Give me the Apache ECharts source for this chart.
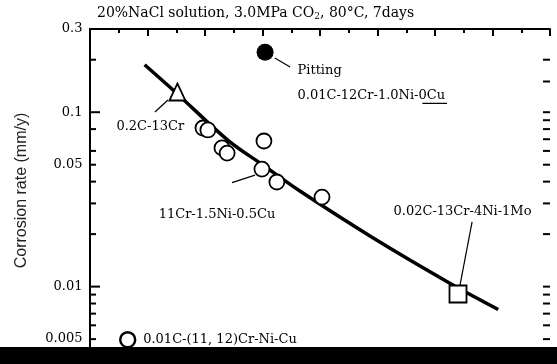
<!DOCTYPE html>
<html>
<head>
<meta charset="utf-8">
<script src="https://cdn.jsdelivr.net/npm/echarts@6/dist/echarts.min.js"></script>
<style>
  html, body { margin: 0; padding: 0; background: #fff; }
  #chart { width: 557px; height: 364px; }
</style>
</head>
<body>
<div id="chart"></div>
<script>
// values; the x axis has no labels, so x is in tick units
const yTickLabels = [0.3, 0.1, 0.05, 0.01, 0.005]
const leftMajorTicks = [0.1, 0.01]
const leftMinorTicks = [0.2, 0.08, 0.06, 0.05, 0.04, 0.03, 0.02, 0.009, 0.008, 0.007, 0.006, 0.005, 0.004]
const rightTicks = [0.2, 0.15, 0.1, 0.09, 0.08, 0.07, 0.06, 0.05, 0.04, 0.03, 0.02,
  0.01, 0.009, 0.008, 0.007, 0.006, 0.005, 0.004]

// fitted trend curve
const trendX = [1.9, 3.0, 4.8, 6.0, 7.3, 9.85, 12.5, 14.2]
const trendY = [0.187, 0.129, 0.069, 0.050, 0.0353, 0.019, 0.0105, 0.0074]

// 0.01C-(11, 12)Cr-Ni-Cu steels
const crNiCuName = '0.01C-(11, 12)Cr-Ni-Cu'
const crNiCuX = [3.93, 4.10, 4.59, 4.77, 6.05, 5.98, 6.50, 8.07]
const crNiCuY = [0.0812, 0.0791, 0.0624, 0.0583, 0.0684, 0.0472, 0.0398, 0.0326]

const pittingPoint = [6.09, 0.221]
const cr13Point = [3.04, 0.1306]
const ni4MoPoint = [12.80, 0.00907]

// annotation texts, their anchors (left edge, middle) and leader lines
const noteTexts = ['Pitting', '0.01C-12Cr-1.0Ni-0Cu', '0.2C-13Cr', '11Cr-1.5Ni-0.5Cu', '0.02C-13Cr-4Ni-1Mo']
const noteX = [7.20, 7.20, 0.90, 2.37, 10.54]
const noteY = [0.1723, 0.1238, 0.0823, 0.0257, 0.0268]
const leaders = [
  [[6.43, 0.2045], [6.96, 0.1816]],
  [[2.71, 0.1175], [2.26, 0.1003]],
  [[5.74, 0.0436], [4.94, 0.0395]],
  [[12.87, 0.0102], [13.29, 0.0235]]
]
// underline under "0Cu"
const underline = [[11.56, 0.1125], [12.42, 0.1125]]

const serif = 'DejaVu Serif'
const chart = echarts.init(document.getElementById('chart'))

const tickSeries = (values, x, len, side) => ({
  type: 'scatter',
  silent: true,
  clip: false,
  symbol: 'rect',
  symbolSize: [len, 2],
  symbolOffset: [side * len / 2, 0],
  itemStyle: { color: '#000', opacity: 1 },
  data: values.map(v => [x, v]),
  z: 5
})

const option = {
  animation: false,
  title: {
    text: '{a|20%NaCl solution, 3.0MPa CO}{s|2}{a|, 80°C, 7days}',
    left: 97,
    top: 5,
    padding: 0,
    textStyle: {
      fontWeight: 'normal',
      rich: {
        a: { fontFamily: serif, fontSize: 14, fontWeight: 'normal', color: '#000' },
        s: { fontFamily: serif, fontSize: 9, fontWeight: 'normal', color: '#000', padding: [7, 0, 0, 0] }
      }
    }
  },
  legend: {
    data: [crNiCuName],
    left: 119,
    top: 331,
    padding: 0,
    itemWidth: 15,
    itemHeight: 15,
    icon: 'circle',
    selectedMode: false,
    itemStyle: { borderWidth: 2.4 },
    textStyle: { fontFamily: serif, fontSize: 13, color: '#000', padding: [0, 0, 0, 3] }
  },
  grid: { left: 90, right: 7, top: 29, bottom: 0 },
  xAxis: [
    {
      type: 'value', min: 0, max: 16, interval: 2, position: 'bottom',
      axisLine: { lineStyle: { color: '#000', width: 2 } },
      axisTick: { inside: true, length: 7, lineStyle: { color: '#000', width: 2 } },
      minorTick: { show: true, splitNumber: 2, length: 4, lineStyle: { color: '#000', width: 2 } },
      axisLabel: { show: false },
      splitLine: { show: false }
    },
    {
      type: 'value', min: 0, max: 16, interval: 2, position: 'top',
      axisLine: { lineStyle: { color: '#000', width: 2 } },
      axisTick: { inside: true, length: 7, lineStyle: { color: '#000', width: 2 } },
      minorTick: { show: true, splitNumber: 2, length: 4, lineStyle: { color: '#000', width: 2 } },
      axisLabel: { show: false },
      splitLine: { show: false }
    }
  ],
  yAxis: [
    {
      type: 'log', min: 0.0036, max: 0.3, position: 'left',
      name: 'Corrosion rate (mm/y)',
      nameLocation: 'middle',
      nameGap: 60,
      nameTextStyle: { fontFamily: 'Liberation Sans', fontSize: 16, color: '#222', padding: [0, 0, 0, 12] },
      axisLine: { show: true, lineStyle: { color: '#000', width: 2 } },
      axisTick: { show: false },
      axisLabel: { show: false },
      splitLine: { show: false }
    },
    {
      type: 'log', min: 0.0036, max: 0.3, position: 'right',
      axisLine: { show: true, lineStyle: { color: '#000', width: 2 } },
      axisTick: { show: false },
      axisLabel: { show: false },
      splitLine: { show: false }
    }
  ],
  series: [
    {
      type: 'line',
      silent: true,
      smooth: 0.35,
      symbol: 'none',
      lineStyle: { color: '#000', width: 3.5 },
      data: trendX.map((x, i) => [x, trendY[i]]),
      z: 2
    },
    ...leaders.concat([underline]).map(seg => ({
      type: 'line',
      silent: true,
      symbol: 'none',
      lineStyle: { color: '#000', width: 1.2 },
      data: seg,
      z: 2
    })),
    {
      name: crNiCuName,
      type: 'scatter',
      symbol: 'circle',
      symbolSize: 15,
      itemStyle: { color: '#fff', borderColor: '#000', borderWidth: 1.8, opacity: 1 },
      data: crNiCuX.map((x, i) => [x, crNiCuY[i]]),
      z: 3
    },
    {
      type: 'scatter',
      symbol: 'circle',
      symbolSize: 17,
      itemStyle: { color: '#000', opacity: 1 },
      data: [pittingPoint],
      z: 3
    },
    {
      type: 'scatter',
      symbol: 'triangle',
      symbolSize: [16, 17],
      itemStyle: { color: '#fff', borderColor: '#000', borderWidth: 1.8, opacity: 1 },
      data: [cr13Point],
      z: 3
    },
    {
      type: 'scatter',
      symbol: 'rect',
      symbolSize: 17,
      itemStyle: { color: '#fff', borderColor: '#000', borderWidth: 1.8, opacity: 1 },
      data: [ni4MoPoint],
      z: 3
    },
    {
      type: 'scatter',
      silent: true,
      clip: false,
      symbolSize: 1,
      itemStyle: { color: 'rgba(0,0,0,0)', opacity: 1 },
      label: {
        show: true,
        position: 'right',
        distance: 0,
        fontFamily: serif,
        fontSize: 13,
        color: '#000',
        formatter: p => noteTexts[p.dataIndex]
      },
      data: noteX.map((x, i) => [x, noteY[i]]),
      z: 4
    },
    {
      type: 'scatter',
      silent: true,
      clip: false,
      symbolSize: 1,
      itemStyle: { color: 'rgba(0,0,0,0)', opacity: 1 },
      label: {
        show: true,
        position: 'left',
        distance: 7,
        fontFamily: serif,
        fontSize: 13,
        color: '#000',
        formatter: p => String(p.value[1])
      },
      data: yTickLabels.map(v => [0, v]),
      z: 4
    },
    tickSeries(leftMajorTicks, 0, 10, 1),
    tickSeries(leftMinorTicks, 0, 6, 1),
    tickSeries(rightTicks, 16, 7, -1)
  ],
  graphic: [
    { type: 'rect', left: 0, top: 347, shape: { width: 557, height: 17 }, style: { fill: '#000' }, z: 100 }
  ]
}

chart.setOption(option)
</script>
</body>
</html>
